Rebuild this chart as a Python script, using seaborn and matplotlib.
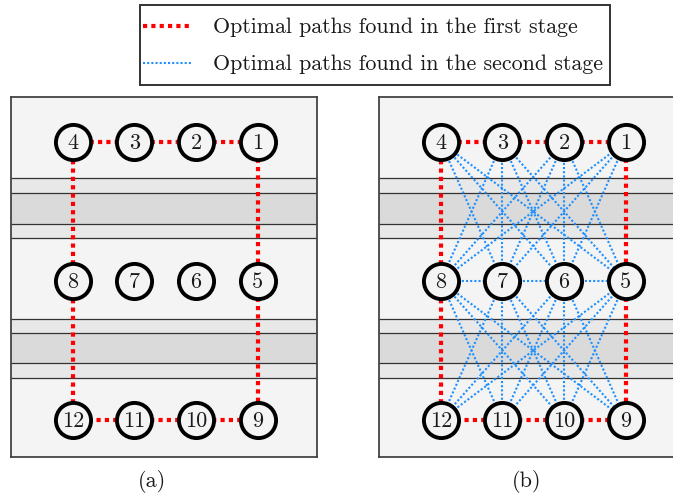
import matplotlib
matplotlib.use("Agg")
import matplotlib.pyplot as plt
from matplotlib.lines import Line2D
from matplotlib.patches import Rectangle
import seaborn as sns
import pandas as pd

sns.set_theme(style="white")
plt.rcParams["font.family"] = ["cmr10", "DejaVu Serif"]
plt.rcParams["axes.unicode_minus"] = False

# ---- data ----
node_labels = ["1", "2", "3", "4", "5", "6", "7", "8", "9", "10", "11", "12"]
node_cols = [3, 2, 1, 0, 3, 2, 1, 0, 3, 2, 1, 0]
node_rows = [0, 0, 0, 0, 1, 1, 1, 1, 2, 2, 2, 2]

stage1_edges = [(4, 3), (3, 2), (2, 1), (1, 5), (5, 9), (9, 10), (10, 11),
                (11, 12), (12, 8), (8, 4)]
stage2_edges = [(4, 7), (4, 6), (4, 5), (3, 8), (3, 7), (3, 6), (3, 5),
                (2, 8), (2, 7), (2, 6), (2, 5), (1, 8), (1, 7), (1, 6),
                (8, 11), (8, 10), (8, 9), (7, 12), (7, 11), (7, 10), (7, 9),
                (6, 12), (6, 11), (6, 10), (6, 9), (5, 12), (5, 11), (5, 10),
                (8, 7), (7, 6), (6, 5)]

band_outer = [(0.26, 0.69), (1.27, 1.70)]
band_inner = [(0.37, 0.59), (1.375, 1.59)]

legend_labels = ["Optimal paths found in the first stage",
                 "Optimal paths found in the second stage"]
panel_captions = ["(a)", "(b)"]

nodes = pd.DataFrame({"label": node_labels, "x": node_cols, "y": node_rows})
pos = {int(l): (c, r) for l, c, r in zip(node_labels, node_cols, node_rows)}


def edge_frame(edges):
    rows = []
    for i, (a, b) in enumerate(edges):
        rows.append({"edge": i, "x": pos[a][0], "y": pos[a][1]})
        rows.append({"edge": i, "x": pos[b][0], "y": pos[b][1]})
    return pd.DataFrame(rows)


W, H = 673, 494
fig = plt.figure(figsize=(W / 100, H / 100), dpi=100)
fig.patch.set_facecolor("white")

RED = "#ff0000"
BLUE = "#1e90ff"
BG = "#f4f4f4"
TXT = "#1a1a1a"

panel_left_px = [11, 379]
for pi, lpx in enumerate(panel_left_px):
    ax = fig.add_axes([lpx / W, 1 - 457 / H, 306 / W, 360 / H])
    ax.set_facecolor(BG)
    ax.set_xlim(-1.0, 3.96)
    ax.set_ylim(2.266, -0.324)
    for (o0, o1), (i0, i1) in zip(band_outer, band_inner):
        ax.axhspan(o0, o1, color="#e8e8e8", lw=0, zorder=0)
        ax.axhspan(i0, i1, color="#dadada", lw=0, zorder=0)
        for yv in (o0, i0, i1, o1):
            ax.axhline(yv, color="#333333", lw=0.9, zorder=0.5)
    sns.lineplot(data=edge_frame(stage1_edges), x="x", y="y", units="edge",
                 estimator=None, sort=False, color=RED, linewidth=3.0,
                 linestyle=(0, (1, 1)), ax=ax, zorder=2, legend=False)
    if pi == 1:
        sns.lineplot(data=edge_frame(stage2_edges), x="x", y="y",
                     units="edge", estimator=None, sort=False, color=BLUE,
                     linewidth=1.5, linestyle=(0, (1, 1)), ax=ax, zorder=1,
                     legend=False)
    sns.scatterplot(data=nodes, x="x", y="y", s=640, color=BG,
                    edgecolor="black", linewidth=2.8, ax=ax, zorder=3,
                    legend=False)
    for _, r in nodes.iterrows():
        ax.text(r["x"], r["y"] + 0.01, r["label"], ha="center", va="center",
                fontsize=16, color=TXT, zorder=4)
    ax.set_xticks([])
    ax.set_yticks([])
    ax.set_xlabel("")
    ax.set_ylabel("")
    for s in ax.spines.values():
        s.set_visible(True)
        s.set_color("#444444")
        s.set_linewidth(1.3)

fig.text(152 / W, 1 - 481 / H, panel_captions[0], ha="center", va="center",
         fontsize=16, color=TXT)
fig.text(527 / W, 1 - 481 / H, panel_captions[1], ha="center", va="center",
         fontsize=16, color=TXT)

handles = [Line2D([0], [0], color=RED, lw=3.0, linestyle=(0, (1, 1))),
           Line2D([0], [0], color=BLUE, lw=1.5, linestyle=(0, (1, 1)))]
leg = fig.legend(handles, legend_labels, loc="center",
                 bbox_to_anchor=(373 / W, 1 - 46 / H), fontsize=15.8,
                 frameon=False, handlelength=2.3, handletextpad=0.9,
                 labelspacing=0.8, borderpad=0.2, borderaxespad=0)
for t in leg.get_texts():
    t.set_color(TXT)
fig.patches.append(Rectangle((140 / W, 1 - 85 / H), 470 / W, 80 / H,
                             transform=fig.transFigure, fill=False,
                             edgecolor="#333333", lw=1.4, zorder=5))

fig.savefig("out.png", dpi=100, facecolor="white")
